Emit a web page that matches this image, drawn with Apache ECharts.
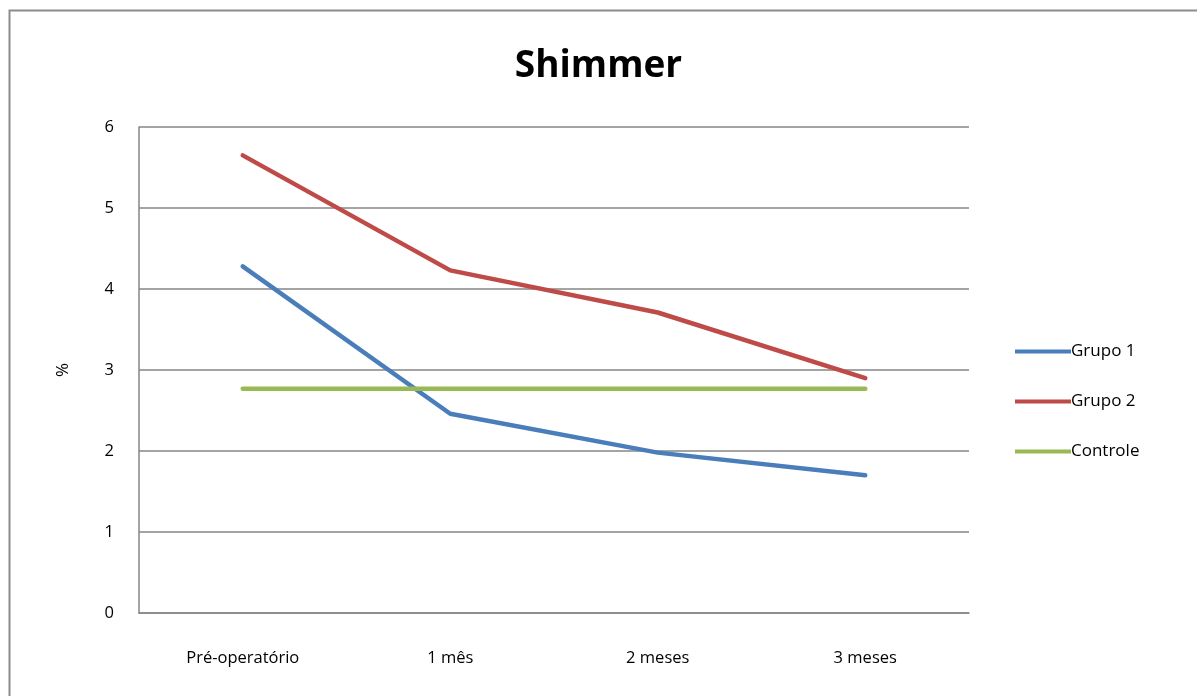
<!DOCTYPE html>
<html>
<head>
<meta charset="utf-8">
<script src="https://cdn.jsdelivr.net/npm/echarts@6/dist/echarts.min.js"></script>
<style>
  html, body { margin: 0; padding: 0; background: #fff; }
  #chart { width: 1197px; height: 696px; }
</style>
</head>
<body>
<div id="chart"></div>
<script>
// Shimmer (%) over follow-up visits
const categories = ['Pré-operatório', '1 mês', '2 meses', '3 meses'];
const grupo1 = [4.28, 2.46, 1.98, 1.70];
const grupo2 = [5.65, 4.23, 3.71, 2.90];
const controle = [2.77, 2.77, 2.77, 2.77];
const yTicks = { min: 0, max: 6, interval: 1 };

const FONT = '"Open Sans", "DejaVu Sans", sans-serif';

const chart = echarts.init(document.getElementById('chart'), null, { renderer: 'canvas' });

function lineSeries(name, data, color) {
  return {
    name: name,
    type: 'line',
    data: data,
    symbol: 'none',
    smooth: false,
    lineStyle: { color: color, width: 4.5, cap: 'round', join: 'round' },
    itemStyle: { color: color },
    animation: false
  };
}

chart.setOption({
  backgroundColor: '#ffffff',
  animation: false,
  graphic: [{
    type: 'rect',
    shape: { x: 9.5, y: 10.5, width: 1300, height: 800 },
    style: { fill: 'none', stroke: '#8c8c8c', lineWidth: 2 },
    silent: true
  }],
  title: {
    text: 'Shimmer',
    left: 'center',
    top: 43,
    textStyle: { fontFamily: FONT, fontWeight: 'bold', fontSize: 37, color: '#000' }
  },
  legend: {
    orient: 'vertical',
    left: 1010,
    top: 335,
    itemWidth: 56,
    itemHeight: 4,
    itemGap: 27,
    icon: 'rect',
    textStyle: { fontFamily: FONT, fontSize: 17, color: '#000', padding: [0, 0, 0, -5], lineHeight: 23 },
    data: ['Grupo 1', 'Grupo 2', 'Controle']
  },
  grid: { left: 139, right: 228, top: 127, bottom: 83 },
  xAxis: {
    type: 'category',
    data: categories,
    boundaryGap: true,
    axisLine: { show: true, lineStyle: { color: '#868686', width: 1.5 } },
    axisTick: { show: false },
    axisLabel: { fontFamily: FONT, fontSize: 16.5, color: '#000', margin: 37, interval: 0 }
  },
  yAxis: {
    type: 'value',
    min: yTicks.min,
    max: yTicks.max,
    interval: yTicks.interval,
    name: '%',
    nameLocation: 'middle',
    nameGap: 67,
    nameRotate: 90,
    nameTextStyle: { fontFamily: FONT, fontSize: 17, color: '#000' },
    axisLine: { show: true, lineStyle: { color: '#868686', width: 1.5 } },
    axisTick: { show: false },
    axisLabel: { fontFamily: FONT, fontSize: 16.5, color: '#000', margin: 25 },
    splitLine: { show: true, lineStyle: { color: '#868686', width: 1.5 } }
  },
  series: [
    lineSeries('Grupo 1', grupo1, '#4a7ebb'),
    lineSeries('Grupo 2', grupo2, '#be4b48'),
    lineSeries('Controle', controle, '#98b954')
  ]
});
</script>
</body>
</html>
